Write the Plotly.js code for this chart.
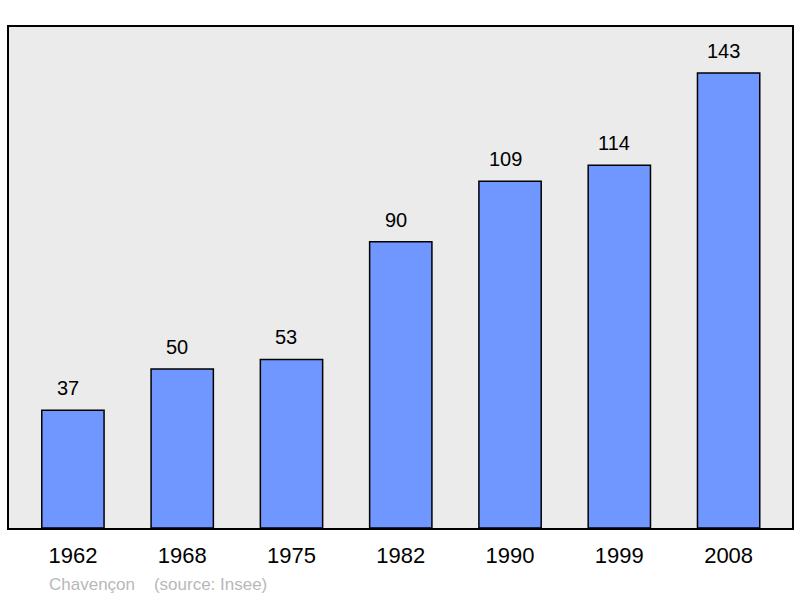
<!DOCTYPE html>
<html>
<head>
<meta charset="utf-8">
<script src="https://cdn.plot.ly/plotly-3.0.1.min.js"></script>
<style>
  body { margin: 0; background: #fff; }
  #chart { width: 800px; height: 598px; }
</style>
</head>
<body>
<div id="chart"></div>
<script>
var years = ['1962', '1968', '1975', '1982', '1990', '1999', '2008'];
var population = [37, 50, 53, 90, 109, 114, 143];
var commune = 'Chavençon';
var source = '(source: Insee)';

var font = 'Liberation Sans, Arial, sans-serif';

var bars = {
  x: years,
  y: population,
  type: 'bar',
  width: 0.57,
  marker: { color: '#7097ff', line: { color: '#000', width: 1.5 } },
  hoverinfo: 'none'
};

// value labels above each bar (category index as x), sitting a bit left of centre
var notes = [];
for (var i = 0; i < years.length; i++) {
  notes.push({
    x: i, y: population[i], xref: 'x', yref: 'y',
    text: String(population[i]), showarrow: false,
    yanchor: 'bottom', yshift: 9, xshift: -5,
    font: { family: font, size: 20, color: '#000' }
  });
}
// source line under the chart
notes.push({
  x: (47 - 9) / 783, y: -(584 - 528) / 501,
  xref: 'paper', yref: 'paper', xanchor: 'left', yanchor: 'middle',
  showarrow: false,
  text: commune + '&nbsp;&nbsp;&nbsp;&nbsp;' + source,
  font: { family: font, size: 17, color: '#b8b8b8' }
});

var layout = {
  width: 800, height: 598,
  margin: { l: 9, r: 8, t: 27, b: 70 },
  paper_bgcolor: '#fff',
  plot_bgcolor: '#ebebeb',
  showlegend: false,
  font: { family: font, color: '#000' },
  xaxis: {
    type: 'category',
    range: [-0.585, 6.58],
    showline: true, mirror: true, linecolor: '#000', linewidth: 2,
    ticks: '', showgrid: false, zeroline: false,
    ticklabelstandoff: 7,
    tickfont: { size: 22, color: '#000' }
  },
  yaxis: {
    range: [0, 157.5],
    showline: true, mirror: true, linecolor: '#000', linewidth: 2,
    showticklabels: false, ticks: '', showgrid: false, zeroline: false
  },
  annotations: notes
};

Plotly.newPlot('chart', [bars], layout, { staticPlot: true });
</script>
</body>
</html>
